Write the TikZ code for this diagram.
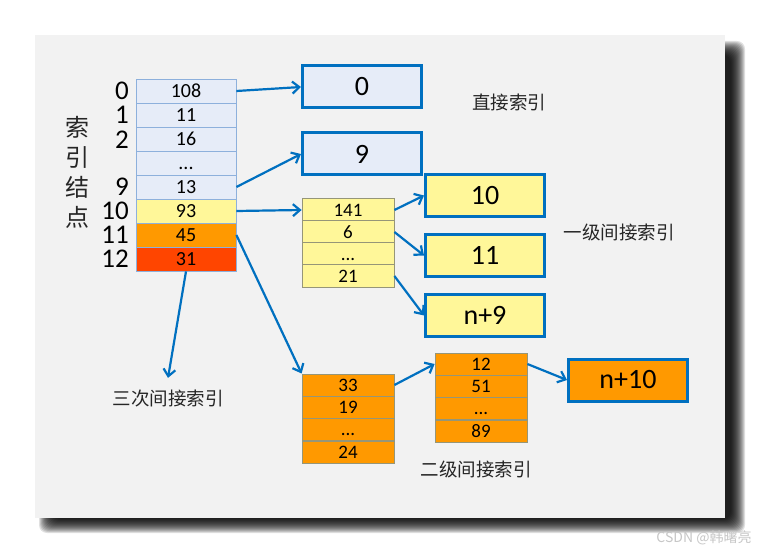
\documentclass[tikz,border=0pt]{standalone}
\usepackage{fontspec}
\setmainfont{Carlito}
\newfontfamily\cjk{Noto Sans CJK SC}
\usepackage{tikz}
\usetikzlibrary{arrows.meta}
\usepackage{xcolor}
\definecolor{panelgray}{RGB}{242,242,242}
\definecolor{cellblue}{RGB}{230,236,248}
\definecolor{cellline}{RGB}{141,176,220}
\definecolor{cellyellow}{RGB}{255,247,153}
\definecolor{cellorange}{RGB}{255,153,0}
\definecolor{cellred}{RGB}{255,69,0}
\definecolor{linkblue}{RGB}{0,112,192}
\definecolor{tableline}{RGB}{150,150,120}

\begin{document}
\begin{tikzpicture}[
        x=1pt, y=-1pt,
        cell/.style={draw=tableline, line width=0.8pt, rectangle, minimum width=92pt, minimum height=22.2pt, inner sep=0pt, text height=12.5pt, text depth=0pt, font=\fontsize{19}{21}\selectfont},
        idxcell/.style={cell, draw=cellline, minimum width=100pt, minimum height=24pt, text height=13pt, font=\fontsize{20}{22}\selectfont},
        bigbox/.style={draw=linkblue, line width=3pt, rectangle, minimum width=119pt, minimum height=42pt, inner sep=0pt, font=\fontsize{28}{30}\selectfont},
        rowlbl/.style={anchor=east, inner sep=0pt, text height=17pt, text depth=0pt, font=\fontsize{27}{29}\selectfont},
        lbl/.style={font=\cjk\fontsize{18.5}{20}\selectfont, text=black!85},
        arrow/.style={-{Straight Barb[length=7pt, width=12pt]}, draw=linkblue, line width=2.2pt}
    ]
        % Rahmen mit Schatten
        \fill[white] (0,0) rectangle (760,553);
        \useasboundingbox (0,0) rectangle (760,553);
        \foreach \k in {1,...,15}
            \fill[black, opacity=0.12, rounded corners=8pt] (38+\k,40+\k) rectangle (746-\k,534-\k);
        \fill[panelgray] (35,35) rectangle (725,518);

        % Indexknoten
        \node[font=\cjk\fontsize{24}{30}\selectfont, align=center, text=black!85] (title) at (77,172) {索\\引\\结\\点};
        \node[idxcell, fill=cellblue] (i0) at (186,91) {108};
        \node[idxcell, fill=cellblue] (i1) at (186,115) {11};
        \node[idxcell, fill=cellblue] (i2) at (186,139) {16};
        \node[idxcell, fill=cellblue] (i3) at (186,163) {...};
        \node[idxcell, fill=cellblue] (i4) at (186,187) {13};
        \node[idxcell, fill=cellyellow] (i5) at (186,211) {93};
        \node[idxcell, fill=cellorange] (i6) at (186,235) {45};
        \node[idxcell, fill=cellred] (i7) at (186,259) {31};

        % Zeilennummern
        \node[rowlbl] (n0) at (129,91) {0};
        \node[rowlbl] (n1) at (129,115) {1};
        \node[rowlbl] (n2) at (129,140) {2};
        \node[rowlbl] (n9) at (129,187) {9};
        \node[rowlbl] (n10) at (129,211) {10};
        \node[rowlbl] (n11) at (129,235) {11};
        \node[rowlbl] (n12) at (129,259) {12};

        % Direkte Bloecke
        \node[bigbox, fill=cellblue] (d0) at (362,87) {0};
        \node[bigbox, fill=cellblue] (d9) at (362,154) {9};
        \node[lbl] (t0) at (509,102) {直接索引};

        % Einfach indirekt
        \node[cell, fill=cellyellow] (a0) at (348,210) {141};
        \node[cell, fill=cellyellow] (a1) at (348,232) {6};
        \node[cell, fill=cellyellow] (a2) at (348,254) {...};
        \node[cell, fill=cellyellow] (a3) at (348,276) {21};
        \node[bigbox, fill=cellyellow] (e10) at (485,195.5) {10};
        \node[bigbox, fill=cellyellow] (e11) at (485,255.5) {11};
        \node[bigbox, fill=cellyellow] (e9) at (485,315.5) {n+9};
        \node[lbl] (t1) at (619,232) {一级间接索引};

        % Zweifach indirekt
        \node[cell, fill=cellorange] (b0) at (348,385) {33};
        \node[cell, fill=cellorange] (b1) at (348,407) {19};
        \node[cell, fill=cellorange] (b2) at (348,429.5) {...};
        \node[cell, fill=cellorange] (b3) at (348,452) {24};
        \node[cell, fill=cellorange] (c0) at (481,364) {12};
        \node[cell, fill=cellorange] (c1) at (481,386) {51};
        \node[cell, fill=cellorange] (c2) at (481,408.5) {...};
        \node[cell, fill=cellorange] (c3) at (481,431) {89};
        \node[bigbox, fill=cellorange] (f10) at (628,380) {n+10};
        \node[lbl] (t2) at (476,469) {二级间接索引};

        % Dreifach indirekt
        \node[lbl] (t3) at (168,398) {三次间接索引};

        % Pfeile
        \draw[arrow] (i0.east) -- (d0.west);
        \draw[arrow] (i4.east) -- (d9.west);
        \draw[arrow] (i5.east) -- (a0.west);
        \draw[arrow] (i6.east) -- (b0.north west);
        \draw[arrow] (i7.south) -- ([yshift=8pt]t3.north);
        \draw[arrow] (a0.east) -- (e10.west);
        \draw[arrow] (a1.east) -- (e11.west);
        \draw[arrow] (a3.east) -- (e9.west);
        \draw[arrow] (b0.east) -- (c0.west);
        \draw[arrow] (c0.east) -- (f10.west);

        % Wasserzeichen
        \node[font=\cjk\fontsize{14}{16}\selectfont, text=black!22] (wm) at (704,538) {CSDN @韩曙亮};
    \end{tikzpicture}
\end{document}
